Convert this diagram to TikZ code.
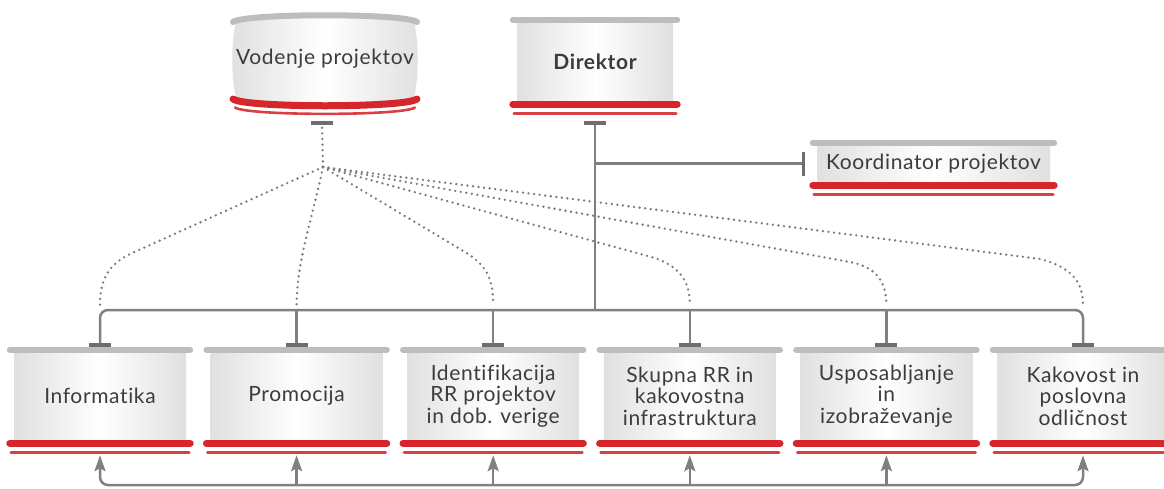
\documentclass[tikz,border=0pt]{standalone}
\usepackage{fontspec}
\setmainfont{Lato}[Ligatures=NoCommon,LetterSpace=3]
\usetikzlibrary{arrows.meta,calc}
\definecolor{greybar}{HTML}{BDBDBD}
\definecolor{conngrey}{HTML}{808080}
\definecolor{teegrey}{HTML}{6E6E6E}
\definecolor{redc}{HTML}{D6262C}
\definecolor{thinredc}{HTML}{D84044}
\definecolor{textgrey}{HTML}{3C3C3C}
\definecolor{edgegrey}{HTML}{E0E0E0}
\definecolor{dotgrey}{HTML}{7A7A7A}
\newcommand\mybars[1]{%
  \draw[gbar] ($(#1.north west)+(-4,-3)$) -- ($(#1.north east)+(4,-3)$);
  \draw[rbar] ($(#1.south west)+(-4,4)$) -- ($(#1.south east)+(4,4)$);
  \draw[trbar] ($(#1.south west)+(-3,13)$) -- ($(#1.south east)+(3,13)$);}
\begin{document}
\begin{tikzpicture}[x=1pt,y=-1pt,
  body/.style={shading=axis,left color=edgegrey,right color=edgegrey,middle color=white,
    inner sep=0pt,align=center,text=textgrey,font=\fontsize{21}{21.5}\selectfont},
  lowbox/.style={body,minimum width=172pt,minimum height=86pt},
  gbar/.style={greybar,line width=6pt,line cap=round},
  rbar/.style={redc,line width=7pt,line cap=round},
  trbar/.style={thinredc,line width=2.6pt,line cap=round},
  conn/.style={conngrey,line width=2.5pt},
  tee/.style={-{Bar[width=22pt,line width=4pt,color=teegrey]}},
  teestart/.style={{Bar[width=22pt,line width=4pt,color=teegrey]}-},
  uptip/.tip={Stealth[length=16pt,width=11pt,inset=3pt,color=conngrey]},
  up/.style={-uptip},
  dots/.style={dotgrey,line width=2.6pt,line cap=round,dash pattern=on 0pt off 5.6pt}]
\useasboundingbox (0,0) rectangle (1164,488);

% bottom boxes
\node[lowbox] (b1) at (100,396) {Informatika};
\node[lowbox] (b2) at (296.6,396) {Promocija};
\node[lowbox] (b3) at (493.2,396) {Identifikacija\\RR projektov\\in dob. verige};
\node[lowbox] (b4) at (689.8,396) {Skupna RR in\\kakovostna\\infrastruktura};
\node[lowbox] (b5) at (886.4,396) {Usposabljanje\\in\\izobraževanje};
\node[lowbox] (b6) at (1083,396) {Kakovost in\\poslovna\\odličnost};
\foreach \n in {b1,b2,b3,b4,b5,b6} {\mybars{\n}}

% director
\node[body,minimum width=156pt,minimum height=77pt,font=\fontsize{21}{21.5}\selectfont\bfseries] (dir) at (595,61.5) {Direktor};
\mybars{dir}

% koordinator
\node[body,minimum width=233pt,minimum height=35pt] (koord) at (933.5,163.5) {Koordinator projektov};
\mybars{koord}

% vodenje projektov (curved box)
\shade[left color=edgegrey,right color=edgegrey,middle color=white]
  (236,20) .. controls (248,13) and (402,13) .. (414,20)
  .. controls (419,45) and (419,75) .. (414,98)
  .. controls (402,106) and (248,106) .. (236,98)
  .. controls (231,75) and (231,45) .. (236,20) -- cycle;
\draw[gbar] (233,22) .. controls (245,13) and (405,13) .. (417,22);
\draw[rbar] (233,99) .. controls (245,108) and (405,108) .. (417,99);
\draw[trbar] (235,107.5) .. controls (247,116) and (403,116) .. (415,107.5);
\node[inner sep=0pt,text=textgrey,font=\fontsize{21}{21.5}\selectfont,minimum width=178pt,minimum height=80pt] (vod) at (325,59) {Vodenje projektov};

% coordinates
\coordinate (dirbus) at (dir.south |- 0,310);
\coordinate (botbus) at (dir.south |- 0,485);
\coordinate (vodT) at (322,123);
\coordinate (hub) at (323,167);

% director tree
\draw[conn,teestart] ($(dir.south)+(0,21)$) -- (dirbus);
\draw[conn,-{Bar[width=24pt,line width=3pt,color=teegrey]}] (dir.south |- koord.west) -- ($(koord.west)+(-12,0)$);
\draw[conn,rounded corners=8pt,{Bar[width=22pt,line width=4pt,color=teegrey]}-{Bar[width=22pt,line width=4pt,color=teegrey]}]
  ($(b1.north)+(0,-6)$) |- (dirbus) -| ($(b6.north)+(0,-6)$);
\foreach \n in {b2,b3,b4,b5} {\draw[conn,tee] (\n.north |- dirbus) -- ($(\n.north)+(0,-6)$);}

% bottom feedback
\draw[conn,rounded corners=8pt,uptip-uptip]
  ($(b1.south)+(0,16)$) |- (botbus) -| ($(b6.south)+(0,16)$);
\foreach \n in {b2,b3,b4,b5} {\draw[conn,up] (\n.south |- botbus) -- ($(\n.south)+(0,16)$);}

% dotted lines from Vodenje projektov
\draw[dots] (hub) -- (vodT);
\draw[teegrey,line width=4pt] ($(vodT)+(-11,0)$) -- ($(vodT)+(11,0)$);
\draw[dots] (hub) -- (130,254) .. controls (108,265) and (100,280) .. (b1.north |- 0,305);
\draw[dots] (hub) .. controls (312,220) and (297,260) .. (b2.north |- 0,305);
\draw[dots] (hub) -- (465,252) .. controls (488,266) and (493,280) .. (b3.north |- 0,305);
\draw[dots] (hub) -- (655,258) .. controls (683,268) and (690,285) .. (b4.north |- 0,305);
\draw[dots] (hub) -- (850,262) .. controls (880,268) and (886,285) .. (b5.north |- 0,305);
\draw[dots] (hub) -- (1040,259) .. controls (1075,268) and (1083,285) .. (b6.north |- 0,305);
\end{tikzpicture}
\end{document}
